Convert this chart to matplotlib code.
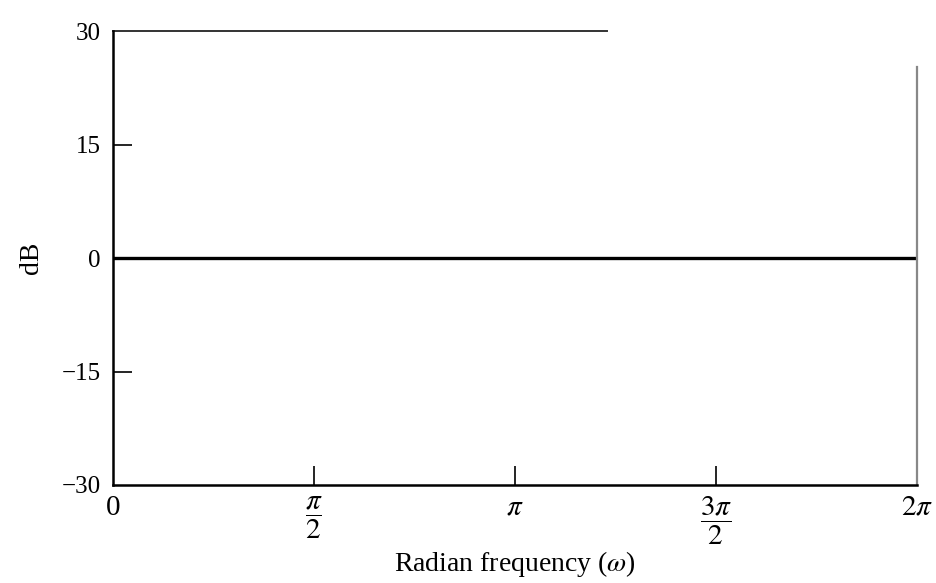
import numpy as np
import matplotlib
matplotlib.use("Agg")
import matplotlib.pyplot as plt

plt.rcParams["font.family"] = ["Liberation Serif", "DejaVu Serif"]
plt.rcParams["mathtext.fontset"] = "stix"

# magnitude response (dB) - flat all-pass at 0 dB
omega = np.array([0.0, 2 * np.pi])
mag_db = np.array([0.0, 0.0])

xticks = [0, np.pi / 2, np.pi, 3 * np.pi / 2, 2 * np.pi]
xticklabels = ["0", r"$\dfrac{\pi}{2}$", r"$\pi$", r"$\dfrac{3\pi}{2}$", r"$2\pi$"]
yticks = [-30, -15, 0, 15, 30]
yticklabels = ["\u221230", "\u221215", "0", "15", "30"]

fig = plt.figure(figsize=(9.36, 5.83), dpi=100)
ax = fig.add_axes([0.1207, 0.1681, 0.8590, 0.7787])

ax.plot(omega, mag_db, color="black", linewidth=2.4, solid_capstyle="butt")

ax.set_xlim(0, 2 * np.pi)
ax.set_ylim(-30, 30)
ax.set_xticks(xticks)
ax.set_xticklabels(xticklabels, fontsize=21, va="top")
ax.set_yticks(yticks)
ax.set_yticklabels(yticklabels, fontsize=18)
ax.tick_params(direction="in", length=14, width=1.2, colors="black")
ax.tick_params(axis="x", pad=7)
ax.tick_params(axis="y", pad=9)

# end ticks are not drawn in the original
for t in (ax.xaxis.get_major_ticks()[0], ax.xaxis.get_major_ticks()[-1],
          ax.yaxis.get_major_ticks()[0], ax.yaxis.get_major_ticks()[-1]):
    t.tick1line.set_visible(False)

for side in ("left", "bottom"):
    ax.spines[side].set_linewidth(1.8)
ax.spines["top"].set_visible(False)
ax.spines["right"].set_visible(False)
# partial top border and grey right border, as in the scan
ax.plot([0, 0.615], [1, 1], transform=ax.transAxes, color="#333333",
        linewidth=1.4, clip_on=False)
ax.plot([1, 1], [0, 0.92], transform=ax.transAxes, color="#888888",
        linewidth=1.6, clip_on=False)

ax.set_xlabel("Radian frequency ($\\omega$)", fontsize=20)
ax.xaxis.set_label_coords(0.5, -0.142)
ax.set_ylabel("dB", fontsize=20)
ax.yaxis.set_label_coords(-0.086, 0.5)

fig.savefig("out.png", dpi=100)
